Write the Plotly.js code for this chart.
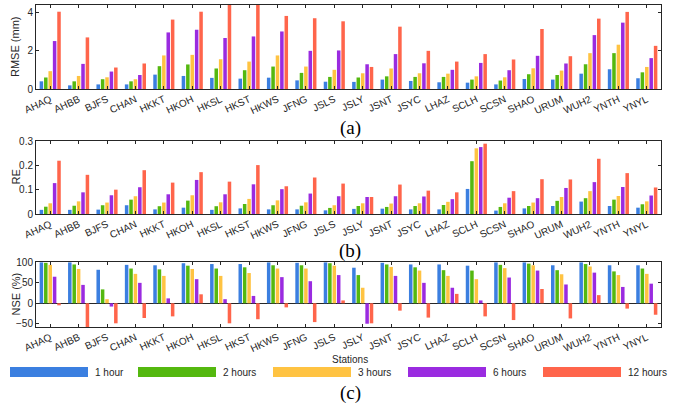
<!DOCTYPE html>
<html>
<head>
<meta charset="utf-8">
<script src="https://cdn.plot.ly/plotly-3.0.1.min.js"></script>
<style>html,body{margin:0;padding:0;background:#fff;}#chart{width:684px;height:407px;}</style>
</head>
<body>
<div id="chart"></div>
<script>
const stations = ['AHAQ','AHBB','BJFS','CHAN','HKKT','HKOH','HKSL','HKST','HKWS','JFNG','JSLS','JSLY','JSNT','JSYC','LHAZ','SCLH','SCSN','SHAO','URUM','WUH2','YNTH','YNYL'];
const seriesNames = ['1 hour','2 hours','3 hours','6 hours','12 hours'];

const rmse1h  = [0.40,0.19,0.24,0.24,0.75,0.68,0.58,0.54,0.59,0.45,0.38,0.37,0.49,0.42,0.35,0.33,0.24,0.52,0.49,0.80,1.03,0.56];
const rmse2h  = [0.60,0.40,0.51,0.40,1.19,1.28,1.07,0.98,1.17,0.84,0.63,0.60,0.66,0.63,0.63,0.49,0.44,0.77,0.73,1.29,1.87,0.87];
const rmse3h  = [0.93,0.68,0.61,0.51,1.75,1.78,1.55,1.43,1.75,1.17,1.00,0.82,1.07,0.82,0.80,0.66,0.61,1.08,0.96,1.87,2.31,1.15];
const rmse6h  = [2.50,1.31,0.91,0.73,2.95,3.09,2.66,2.74,3.00,1.99,2.01,1.29,1.82,1.34,1.00,1.36,0.98,1.73,1.33,2.81,3.46,1.61];
const rmse12h = [4.03,2.69,1.12,1.33,3.62,4.03,4.60,4.60,3.81,3.69,3.53,1.15,3.25,1.99,1.43,1.82,1.54,3.13,1.71,3.67,4.02,2.25];

const re1h  = [0.017,0.017,0.018,0.036,0.019,0.026,0.017,0.023,0.019,0.019,0.015,0.021,0.022,0.019,0.019,0.103,0.014,0.023,0.033,0.051,0.033,0.026];
const re2h  = [0.030,0.034,0.036,0.059,0.032,0.055,0.032,0.041,0.036,0.034,0.025,0.033,0.029,0.033,0.037,0.217,0.029,0.033,0.054,0.065,0.059,0.040];
const re3h  = [0.044,0.052,0.047,0.073,0.047,0.077,0.048,0.062,0.056,0.048,0.036,0.044,0.043,0.044,0.050,0.270,0.044,0.047,0.070,0.094,0.074,0.052];
const re6h  = [0.127,0.089,0.077,0.110,0.081,0.140,0.081,0.122,0.102,0.084,0.073,0.070,0.073,0.072,0.061,0.275,0.067,0.065,0.107,0.131,0.111,0.076];
const re12h = [0.219,0.161,0.100,0.180,0.129,0.172,0.133,0.201,0.114,0.150,0.125,0.070,0.121,0.096,0.089,0.289,0.094,0.143,0.142,0.227,0.168,0.109];

const nse1h  = [100,100,82,94,93,98,96,96,100,99,100,87,99,95,95,92,100,100,93,100,93,93];
const nse2h  = [99,95,34,85,83,92,85,88,93,93,98,69,95,88,81,80,94,97,81,96,78,85];
const nse3h  = [94,84,10,72,67,84,67,74,85,85,92,38,89,80,67,59,86,93,71,90,69,72];
const nse6h  = [65,45,-8,50,12,59,10,18,64,54,69,-50,67,50,38,7,63,80,46,75,40,48];
const nse12h = [-5,-62,-49,-36,-32,22,-49,-39,-10,-46,7,-49,-18,-35,23,-32,-41,35,-37,20,-13,-28];

const colors = ['#3B7FE0','#54B80F','#FFC342','#9A2BE0','#FF654B'];
const rmseSets = [rmse1h,rmse2h,rmse3h,rmse6h,rmse12h];
const reSets = [re1h,re2h,re3h,re6h,re12h];
const nseSets = [nse1h,nse2h,nse3h,nse6h,nse12h];

const traces = [];
[[rmseSets,'x','y'],[reSets,'x2','y2'],[nseSets,'x3','y3']].forEach(([sets,xa,ya])=>{
  sets.forEach((vals,i)=>{
    traces.push({type:'bar', x:stations, y:vals, name:seriesNames[i], xaxis:xa, yaxis:ya,
      marker:{color:colors[i]}, showlegend:false, hoverinfo:'x+y+name'});
  });
});

const txt = '#262626';
const font = {family:'Liberation Sans, Arial, sans-serif', size:10, color:txt};
function xax(anchor){
  return {domain:[0,1], anchor:anchor, type:'category', range:[-0.5,21.5], tickangle:-25,
    ticks:'inside', ticklen:3, tickcolor:txt, showline:true, mirror:'ticks', linecolor:txt, linewidth:1,
    showgrid:false, zeroline:false, tickfont:font, automargin:false};
}
function yax(anchor, dom, range, tv){
  return {domain:dom, anchor:anchor, range:range, tickvals:tv, ticks:'inside', ticklen:3, tickcolor:txt,
    showline:true, mirror:'ticks', linecolor:txt, linewidth:1, showgrid:false, zeroline:false,
    tickfont:font, automargin:false};
}
const H = 407, L = 36, W = 625;
const px = v => (v - L)/W;
const py = v => 1 - v/H;

const y3 = yax('x3',[py(327),py(262)],[-58,101],[-50,0,50,100]);
y3.zeroline = true; y3.zerolinecolor = txt; y3.zerolinewidth = 1;

const layout = {
  width:684, height:407, margin:{l:36, r:23, t:0, b:0}, paper_bgcolor:'#fff', plot_bgcolor:'#fff',
  barmode:'group', bargap:0.225, bargroupgap:0.2, showlegend:false, font:font,
  xaxis:xax('y'), xaxis2:xax('y2'), xaxis3:xax('y3'),
  yaxis:yax('x',[py(89),py(5)],[0,4.38],[0,2,4]),
  yaxis2:yax('x2',[py(214),py(141)],[0,0.3],[0,0.1,0.2,0.3]),
  yaxis3:y3,
  shapes:[], annotations:[]
};
layout.yaxis2.ticktext = ['0','0.1','0.2','0.3'];

const ytitles = [['RMSE (mm)',47],['RE',177.5],['NSE (%)',294.5]];
ytitles.forEach(([t,yc])=>{
  layout.annotations.push({text:t, xref:'paper', yref:'paper', x:px(15), y:py(yc), textangle:-90,
    showarrow:false, font:{family:font.family, size:11, color:txt}, xanchor:'center', yanchor:'middle'});
});
[['(a)',128],['(b)',251],['(c)',393]].forEach(([t,yc])=>{
  layout.annotations.push({text:t, xref:'paper', yref:'paper', x:px(350), y:py(yc), showarrow:false,
    font:{family:'Liberation Serif, Times New Roman, serif', size:19, color:'#000'}, xanchor:'center', yanchor:'middle'});
});
layout.annotations.push({text:'Stations', xref:'paper', yref:'paper', x:px(350), y:py(359), showarrow:false,
  font:font, xanchor:'center', yanchor:'middle'});

const legX = [10,138,273,408,543];
seriesNames.forEach((n,i)=>{
  layout.shapes.push({type:'rect', xref:'paper', yref:'paper', x0:px(legX[i]), x1:px(legX[i]+78),
    y0:py(377), y1:py(367), fillcolor:colors[i], line:{width:0}});
  layout.annotations.push({text:n, xref:'paper', yref:'paper', x:px(legX[i]+83), y:py(372), showarrow:false,
    font:font, xanchor:'left', yanchor:'middle'});
});

Plotly.newPlot('chart', traces, layout, {displayModeBar:false, staticPlot:true});
</script>
</body>
</html>
